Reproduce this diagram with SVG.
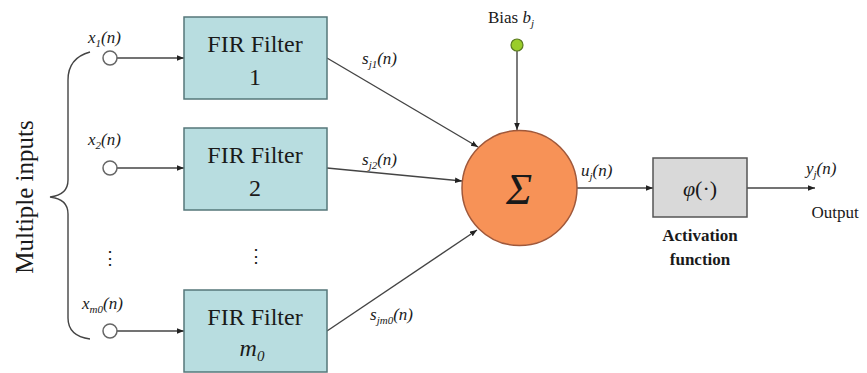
<svg xmlns="http://www.w3.org/2000/svg" width="867" height="373" viewBox="0 0 867 373">
<defs>
<marker id="ah" viewBox="0 0 10 10" refX="10" refY="5" markerWidth="7" markerHeight="7" orient="auto" markerUnits="userSpaceOnUse"><path d="M0,1 L10,5 L0,9 z" fill="#222"/></marker>
<style>
.fir{fill:#b8dde0;stroke:#55777a;stroke-width:1.5}
.t{font-family:"Liberation Serif",serif;fill:#1a1a1a}
.lbl{font-family:"Liberation Serif",serif;font-style:italic;font-size:17px;fill:#1a1a1a}
.in{fill:#fff;stroke:#666;stroke-width:1.5}
.c{stroke:#444;stroke-width:1.4;fill:none}
</style>
</defs>
<rect width="867" height="373" fill="#fff"/>
<g id="brace">
<path class="c" d="M90,52 Q68,58 68,80 L68,180 Q68,195 50,197 Q68,199 68,214 L68,318 Q68,336 90,339" stroke="#555"/>
<text class="t" font-size="25" transform="translate(27,197) rotate(-90)" text-anchor="middle" dominant-baseline="middle">Multiple inputs</text>
</g>
<g id="connectors">
<line class="c" x1="117" y1="58" x2="184" y2="58" marker-end="url(#ah)"/>
<line class="c" x1="117" y1="168" x2="184" y2="168" marker-end="url(#ah)"/>
<line class="c" x1="117" y1="331" x2="184" y2="331" marker-end="url(#ah)"/>
<line class="c" x1="327" y1="58" x2="478" y2="147" marker-end="url(#ah)"/>
<line class="c" x1="327" y1="168" x2="462" y2="181" marker-end="url(#ah)"/>
<line class="c" x1="327" y1="331" x2="477" y2="230" marker-end="url(#ah)"/>
<line class="c" x1="517" y1="51" x2="517" y2="130" marker-end="url(#ah)"/>
<line class="c" x1="577" y1="188" x2="653" y2="188" marker-end="url(#ah)"/>
<line class="c" x1="747" y1="188" x2="815" y2="188" marker-end="url(#ah)"/>
</g>
<g id="input1">
<circle class="in" cx="110" cy="58" r="7"/>
<text class="lbl" x="88" y="43">x<tspan font-size="11" dy="4">1</tspan><tspan dy="-4">(n)</tspan></text>
</g>
<g id="input2">
<circle class="in" cx="110" cy="168" r="7"/>
<text class="lbl" x="88" y="145">x<tspan font-size="11" dy="4">2</tspan><tspan dy="-4">(n)</tspan></text>
</g>
<g id="inputm">
<circle class="in" cx="110" cy="331" r="7"/>
<text class="lbl" x="82" y="309">x<tspan font-size="11" dy="4">m0</tspan><tspan dy="-4">(n)</tspan></text>
</g>
<g id="dots">
<text class="t" font-size="18" x="110" y="264" text-anchor="middle">⋮</text>
<text class="t" font-size="18" x="256" y="262" text-anchor="middle">⋮</text>
</g>
<g id="fir1">
<rect class="fir" x="184" y="17" width="143" height="82"/>
<text class="t" font-size="24" x="255" y="52" text-anchor="middle">FIR Filter</text>
<text class="t" font-size="24" x="255" y="85" text-anchor="middle">1</text>
</g>
<g id="fir2">
<rect class="fir" x="184" y="128" width="143" height="82"/>
<text class="t" font-size="24" x="255" y="163" text-anchor="middle">FIR Filter</text>
<text class="t" font-size="24" x="255" y="196" text-anchor="middle">2</text>
</g>
<g id="fir3">
<rect class="fir" x="184" y="290" width="143" height="82"/>
<text class="t" font-size="24" x="255" y="325" text-anchor="middle">FIR Filter</text>
<text class="t" font-size="24" x="252" y="356" text-anchor="middle" font-style="italic">m<tspan font-size="15" dy="5">0</tspan></text>
</g>
<g id="labels">
<text class="lbl" x="362" y="64">s<tspan font-size="11" dy="4">j1</tspan><tspan dy="-4">(n)</tspan></text>
<text class="lbl" x="362" y="165">s<tspan font-size="11" dy="4">j2</tspan><tspan dy="-4">(n)</tspan></text>
<text class="lbl" x="370" y="320">s<tspan font-size="11" dy="4">jm0</tspan><tspan dy="-4">(n)</tspan></text>
<text class="lbl" x="581" y="176">u<tspan font-size="11" dy="4">j</tspan><tspan dy="-4">(n)</tspan></text>
</g>
<g id="bias">
<circle cx="517" cy="45" r="6" fill="#9acd2a" stroke="#5a7a20" stroke-width="1.2"/>
<text class="t" font-size="17" x="488" y="23">Bias <tspan font-style="italic">b</tspan><tspan font-style="italic" font-size="11" dy="4">j</tspan></text>
</g>
<g id="sum">
<circle cx="519.5" cy="188" r="57.5" fill="#f79257" stroke="#a0583a" stroke-width="1.5"/>
<text class="t" font-size="44" font-style="italic" x="519" y="204" text-anchor="middle">Σ</text>
</g>
<g id="activation">
<rect x="653" y="158" width="94" height="59" fill="#d9d9d9" stroke="#555" stroke-width="1.5"/>
<text class="t" font-size="22" x="700" y="196" text-anchor="middle"><tspan font-style="italic">φ</tspan>(·)</text>
<text class="t" font-size="17" font-weight="bold" x="700" y="241" text-anchor="middle">Activation</text>
<text class="t" font-size="17" font-weight="bold" x="700" y="265" text-anchor="middle">function</text>
</g>
<g id="output">
<text class="lbl" x="806" y="174">y<tspan font-size="11" dy="4">j</tspan><tspan dy="-4">(n)</tspan></text>
<text class="t" font-size="17" x="835" y="218" text-anchor="middle">Output</text>
</g>
</svg>
